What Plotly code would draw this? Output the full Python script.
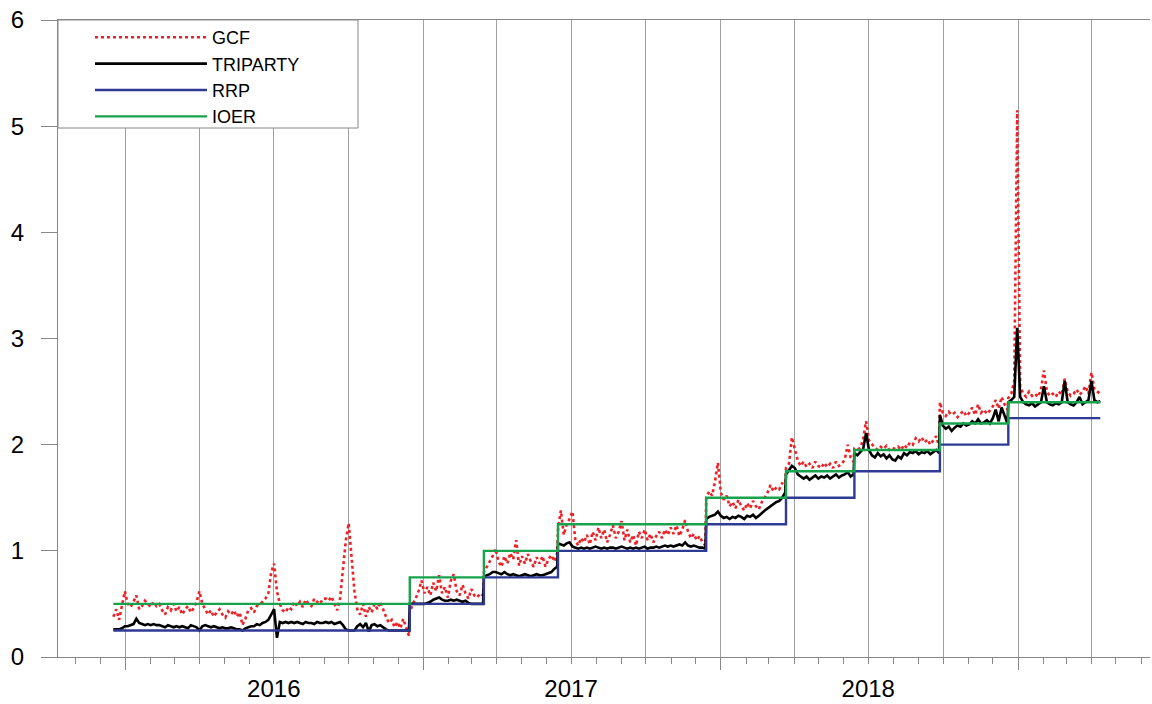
import pandas as pd
import plotly.graph_objects as go

# ---- policy regime boundaries and administered rates ----
seg_bounds = ["2015-12-17", "2016-12-15", "2017-03-16", "2017-06-15", "2017-12-14",
              "2018-03-22", "2018-06-14", "2018-09-27", "2018-12-20", "2019-04-12"]
rrp = [0.25, 0.50, 0.75, 1.00, 1.25, 1.50, 1.75, 2.00, 2.25, 2.25]
ioer = [0.50, 0.75, 1.00, 1.25, 1.50, 1.75, 1.95, 2.20, 2.40, 2.40]

# ---- GCF repo rate (per policy regime) ----
gcf_s1 = [0.38, 0.45, 0.35, 0.50, 0.62,
          0.50, 0.47, 0.52, 0.58, 0.45, 0.48, 0.53, 0.50, 0.47,
          0.52, 0.48, 0.50, 0.44, 0.40, 0.47, 0.44, 0.50,
          0.43, 0.47, 0.40, 0.45, 0.48, 0.42, 0.46, 0.52, 0.62,
          0.50, 0.45, 0.40, 0.44, 0.38, 0.42, 0.45, 0.40,
          0.37, 0.43, 0.40, 0.44, 0.38, 0.42, 0.30, 0.36, 0.44,
          0.46, 0.42, 0.48, 0.50, 0.52, 0.55, 0.60, 0.80,
          0.88,
          0.62, 0.50, 0.44, 0.42, 0.47, 0.45, 0.52, 0.48,
          0.52, 0.47, 0.54, 0.50, 0.48, 0.55, 0.52, 0.50, 0.55,
          0.55, 0.53, 0.57, 0.50, 0.44, 0.55, 0.80, 1.10,
          1.26, 0.95, 0.62,
          0.45, 0.40, 0.50, 0.38, 0.47, 0.42,
          0.50, 0.45, 0.52, 0.44, 0.38, 0.32, 0.35, 0.28,
          0.33, 0.27, 0.36, 0.28, 0.20]
gcf_s2 = [0.42, 0.50, 0.55, 0.62, 0.72, 0.60, 0.66, 0.58, 0.70, 0.62, 0.77, 0.60, 0.66,
          0.56, 0.72, 0.78, 0.62, 0.58, 0.68, 0.60, 0.55, 0.64, 0.58, 0.56, 0.60, 0.58]
gcf_s3 = [0.80, 0.85, 0.90, 0.95, 1.02, 0.90, 0.85, 0.95, 0.88, 0.98, 0.92, 1.10, 0.86,
          0.95, 0.88, 0.97, 0.90, 0.85, 0.94, 0.88, 0.95, 0.85, 0.92, 0.96, 0.90, 0.98]
gcf_s4 = [1.20, 1.38, 1.15, 1.25, 1.30, 1.37, 1.10, 1.05, 1.12, 1.08,
          1.15, 1.06, 1.18, 1.10, 1.22, 1.12, 1.20, 1.08, 1.15, 1.24,
          1.12, 1.18, 1.28, 1.10, 1.20, 1.08, 1.15, 1.05, 1.18, 1.12,
          1.20, 1.10, 1.16, 1.08, 1.14, 1.18, 1.12, 1.20, 1.15, 1.22,
          1.16, 1.24, 1.14, 1.20, 1.29, 1.18, 1.12, 1.16, 1.10, 1.14,
          1.08, 1.05]
gcf_s5 = [1.50, 1.56, 1.52, 1.65, 1.83, 1.55, 1.48, 1.52, 1.42, 1.46,
          1.40, 1.48, 1.42, 1.38, 1.45, 1.40, 1.47, 1.42, 1.39, 1.46,
          1.50, 1.55, 1.62, 1.56, 1.60, 1.58, 1.64, 1.60]
gcf_s6 = [1.78, 1.82, 2.07, 1.95, 1.85, 1.80, 1.84, 1.79, 1.82, 1.78,
          1.84, 1.80, 1.78, 1.83, 1.79, 1.82, 1.78, 1.84, 1.80, 1.82,
          1.86, 2.00, 1.88, 1.84]
gcf_s7 = [1.96, 1.95, 1.97, 2.05, 2.22, 2.04, 2.00, 1.97, 1.95, 1.98,
          1.96, 1.99, 1.95, 1.97, 1.96, 1.98, 1.95, 2.00, 1.97, 2.02,
          2.00, 2.06, 2.03, 2.07, 2.02, 2.05, 2.00, 2.04, 2.08, 1.98]
gcf_s8 = [2.40, 2.30, 2.27, 2.31, 2.28, 2.30, 2.26, 2.29, 2.32, 2.27,
          2.30, 2.35, 2.28, 2.38, 2.30, 2.33, 2.29, 2.32, 2.36, 2.42,
          2.34, 2.45, 2.38, 2.33]
gcf_s9 = [2.44, 2.48, 2.60, 5.15, 2.55, 2.48, 2.45, 2.50, 2.46, 2.48,
          2.45, 2.52, 2.70, 2.50, 2.46, 2.48, 2.45, 2.50, 2.47, 2.62,
          2.50, 2.46, 2.48, 2.52, 2.47, 2.50, 2.55, 2.48, 2.68, 2.52,
          2.50, 2.48]

# ---- Tri-party repo rate ----
tri_s1 = [0.26, 0.26, 0.26, 0.27, 0.29,
          0.29, 0.30, 0.31, 0.36, 0.32, 0.31, 0.30, 0.31, 0.30,
          0.31, 0.30, 0.30, 0.29, 0.28, 0.30, 0.29, 0.28,
          0.29, 0.28, 0.29, 0.28, 0.27, 0.30, 0.29, 0.28, 0.25,
          0.29, 0.30, 0.29, 0.28, 0.29, 0.28, 0.27, 0.28,
          0.27, 0.27, 0.28, 0.27, 0.26, 0.26, 0.25, 0.27, 0.28,
          0.29, 0.29, 0.31, 0.30, 0.32, 0.33, 0.35, 0.40,
          0.45,
          0.18, 0.33, 0.32, 0.33, 0.32, 0.33, 0.32, 0.33,
          0.32, 0.31, 0.33, 0.32, 0.32, 0.31, 0.33, 0.32, 0.32,
          0.33, 0.32, 0.33, 0.31, 0.32, 0.33, 0.30, 0.26,
          0.25, 0.25, 0.25,
          0.29, 0.31, 0.28, 0.32, 0.24, 0.30,
          0.31, 0.29, 0.30, 0.28, 0.26, 0.25, 0.25, 0.25,
          0.25, 0.25, 0.25, 0.25, 0.25]
tri_s2 = [0.50, 0.50, 0.50, 0.50, 0.50, 0.50, 0.51, 0.52, 0.54, 0.55, 0.56, 0.54, 0.53,
          0.53, 0.54, 0.53, 0.54, 0.53, 0.52, 0.53, 0.51, 0.50, 0.50, 0.50, 0.50, 0.50]
tri_s3 = [0.76, 0.77, 0.78, 0.80, 0.80, 0.79, 0.78, 0.80, 0.78, 0.77, 0.78, 0.77, 0.76,
          0.77, 0.78, 0.77, 0.76, 0.77, 0.78, 0.77, 0.77, 0.78, 0.79, 0.80, 0.83, 0.85]
tri_s4 = [1.07, 1.06, 1.05, 1.07, 1.08, 1.04, 1.03, 1.02, 1.03, 1.02,
          1.03, 1.02, 1.03, 1.04, 1.03, 1.02, 1.03, 1.02, 1.03, 1.03,
          1.02, 1.03, 1.04, 1.03, 1.02, 1.03, 1.02, 1.03, 1.02, 1.03,
          1.04, 1.02, 1.03, 1.03, 1.04, 1.03, 1.04, 1.05, 1.04, 1.05,
          1.04, 1.05, 1.06, 1.05, 1.08, 1.05, 1.04, 1.05, 1.04, 1.03,
          1.03, 1.02]
tri_s5 = [1.30, 1.32, 1.33, 1.34, 1.37, 1.33, 1.31, 1.32, 1.30, 1.32,
          1.31, 1.33, 1.32, 1.30, 1.33, 1.32, 1.34, 1.31, 1.33, 1.36,
          1.38, 1.40, 1.42, 1.44, 1.46, 1.47, 1.50, 1.55]
tri_s6 = [1.72, 1.76, 1.80, 1.78, 1.72, 1.70, 1.68, 1.70, 1.67, 1.69,
          1.71, 1.68, 1.70, 1.69, 1.71, 1.68, 1.70, 1.72, 1.69, 1.71,
          1.72, 1.74, 1.70, 1.72]
tri_s7 = [1.92, 1.90, 1.93, 1.96, 2.11, 1.95, 1.90, 1.88, 1.92, 1.89,
          1.91, 1.87, 1.90, 1.86, 1.85, 1.89, 1.87, 1.92, 1.90, 1.93,
          1.92, 1.94, 1.91, 1.93, 1.92, 1.94, 1.91, 1.93, 1.95, 1.92]
tri_s8 = [2.28, 2.18, 2.15, 2.17, 2.13, 2.16, 2.18, 2.17, 2.20, 2.18,
          2.19, 2.22, 2.20, 2.24, 2.20, 2.21, 2.23, 2.20, 2.25, 2.33,
          2.22, 2.35, 2.28, 2.20]
tri_s9 = [2.40, 2.42, 2.45, 3.10, 2.45, 2.40, 2.38, 2.37, 2.39, 2.36,
          2.38, 2.40, 2.55, 2.40, 2.38, 2.37, 2.39, 2.38, 2.40, 2.60,
          2.40, 2.38, 2.37, 2.40, 2.45, 2.38, 2.40, 2.42, 2.60, 2.42,
          2.40, 2.41]

# ---- axis decorations ----
year_labels = ["2016", "2017", "2018"]
year_label_dates = ["2016-07-01", "2017-07-01", "2018-07-01"]
year_tick_dates = ["2016-01-01", "2017-01-01", "2018-01-01", "2019-01-01"]
quarter_dates = [str(d.date()) for d in pd.date_range("2016-01-01", "2019-04-01", freq="QS")]
y_ticks = [0, 1, 2, 3, 4, 5, 6]
x_range = ["2015-10-10", "2019-06-12"]

gcf_segs = [gcf_s1, gcf_s2, gcf_s3, gcf_s4, gcf_s5, gcf_s6, gcf_s7, gcf_s8, gcf_s9]
tri_segs = [tri_s1, tri_s2, tri_s3, tri_s4, tri_s5, tri_s6, tri_s7, tri_s8, tri_s9]


def seg_dates(k, n):
    start = pd.Timestamp(seg_bounds[k])
    end = pd.Timestamp(seg_bounds[k + 1])
    if k + 1 < len(seg_bounds) - 1:
        end = end - pd.Timedelta(days=1)
    return list(pd.date_range(start, end, periods=n))


gcf_x, gcf_y, tri_x, tri_y = [], [], [], []
for k, (g, t) in enumerate(zip(gcf_segs, tri_segs)):
    gcf_x += seg_dates(k, len(g)); gcf_y += g
    tri_x += seg_dates(k, len(t)); tri_y += t

RED = "#ec2227"
BLUE = "#2e3a94"
GREEN = "#17a24b"
GRID = "#a0a0a0"
AX = "#888888"
FONT = "Liberation Sans, Arial, Helvetica, sans-serif"

fig = go.Figure()
fig.add_trace(go.Scatter(x=gcf_x, y=gcf_y, name="GCF", mode="lines",
                         line=dict(color=RED, width=2.6, dash="3px,3px")))
fig.add_trace(go.Scatter(x=tri_x, y=tri_y, name="TRIPARTY", mode="lines",
                         line=dict(color="black", width=2.6)))
fig.add_trace(go.Scatter(x=seg_bounds, y=rrp, name="RRP", mode="lines", line_shape="hv",
                         line=dict(color=BLUE, width=2.4)))
fig.add_trace(go.Scatter(x=seg_bounds, y=ioer, name="IOER", mode="lines", line_shape="hv",
                         line=dict(color=GREEN, width=2.4)))
# helper traces so the overlay axes are drawn
fig.add_trace(go.Scatter(x=year_tick_dates, y=[0] * len(year_tick_dates), xaxis="x2",
                         mode="markers", marker=dict(opacity=0), showlegend=False, hoverinfo="skip"))
fig.add_trace(go.Scatter(x=year_label_dates, y=[0] * len(year_label_dates), xaxis="x3",
                         mode="markers", marker=dict(opacity=0), showlegend=False, hoverinfo="skip"))

# full-window figure; the page's default body margin is removed in post_script
W, H = 1152, 704
L, R, T, B = 58, 2, 20, 47
pw, ph = W - L - R, H - T - B

fig.update_layout(
    width=W, height=H,
    margin=dict(l=L, r=R, t=T, b=B, autoexpand=False),
    paper_bgcolor="white", plot_bgcolor="white",
    font=dict(family=FONT, color="black"),
    showlegend=True,
    legend=dict(x=32 / pw, y=1 + 1 / ph, xanchor="left", yanchor="top",
                bgcolor="rgba(0,0,0,0)", borderwidth=0,
                font=dict(size=18, family=FONT), itemwidth=112, tracegroupgap=0),
    xaxis=dict(type="date", range=x_range, tickvals=quarter_dates, showticklabels=False,
               showgrid=True, gridcolor=GRID, gridwidth=1, zeroline=False, automargin=False,
               ticks="outside", ticklen=6, tickcolor=AX, tickwidth=1,
               minor=dict(dtick="M1", tick0="2016-01-01", ticks="outside", ticklen=6,
                          tickcolor=AX, tickwidth=1, showgrid=False),
               showline=True, linecolor=AX, linewidth=1, mirror=True),
    xaxis2=dict(type="date", range=x_range, overlaying="x", anchor="y", side="bottom",
                tickvals=year_tick_dates, showticklabels=False, ticks="outside", ticklen=12,
                tickcolor=AX, tickwidth=1, showgrid=False, zeroline=False, showline=False,
                automargin=False),
    xaxis3=dict(type="date", range=x_range, overlaying="x", anchor="y", side="bottom",
                tickvals=year_label_dates, ticktext=year_labels, ticks="", showgrid=False,
                zeroline=False, showline=False, automargin=False, ticklabeloverflow="allow",
                tickfont=dict(size=24, family=FONT, color="black"), ticklabelstandoff=15),
    yaxis=dict(range=[0, 6], tickvals=y_ticks, showgrid=False, zeroline=False, automargin=False,
               ticks="outside", ticklen=16, tickcolor=AX, tickwidth=1, ticklabeloverflow="allow",
               showline=True, linecolor=AX, linewidth=1,
               tickfont=dict(size=24, family=FONT, color="black"), ticklabelstandoff=12),
    shapes=[dict(type="rect", xref="paper", yref="paper", x0=0, x1=300 / pw,
                 y0=1 - 108 / ph, y1=1, fillcolor="white", line=dict(color=AX, width=1),
                 layer="above")],
)

fig.write_html("out.html", config={"displayModeBar": False},
               post_script="document.body.style.margin='0px';document.body.style.overflow='hidden';")
